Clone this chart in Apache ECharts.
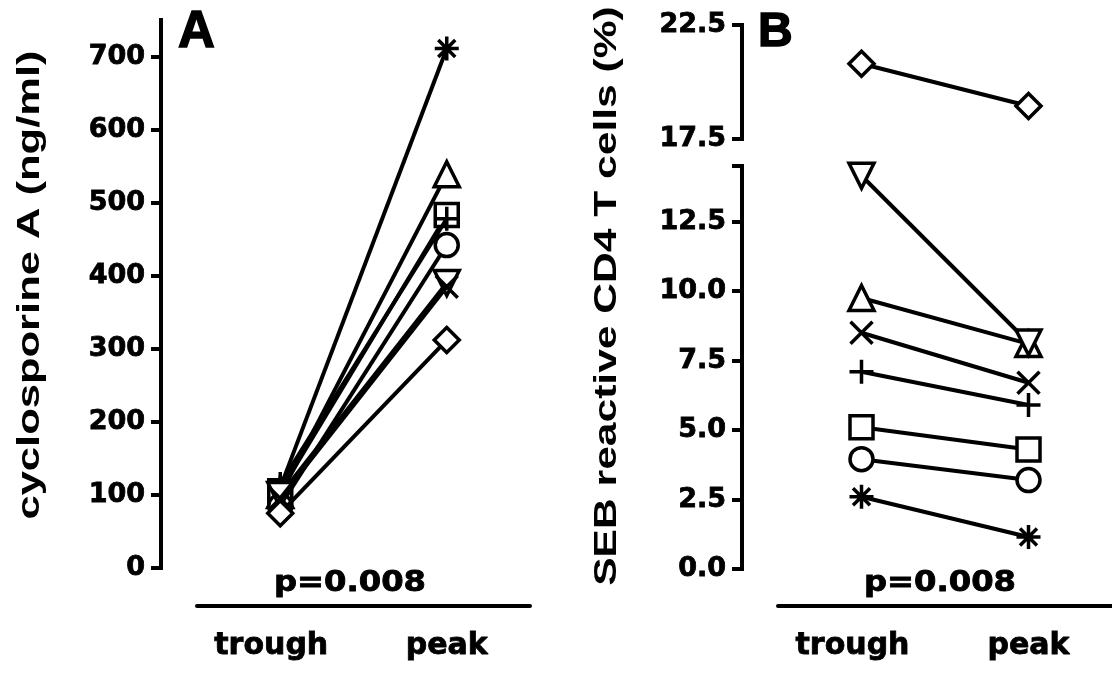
<!DOCTYPE html>
<html><head><meta charset="utf-8">
<script src="https://cdn.jsdelivr.net/npm/echarts@6/dist/echarts.min.js"></script>
<style>html,body{margin:0;padding:0;background:#fff}#c{width:1112px;height:675px}</style>
</head><body><div id="c"></div>
<script>
// ---- data ----
const categories = ['trough', 'peak'];
const subjects = ['asterisk', 'triangle', 'square', 'plus', 'circle', 'triangleDown', 'cross', 'diamond'];
const csaTrough = [110, 100, 105, 115, 85, 100, 95, 75];
const csaPeak = [711, 539, 483, 478, 442, 390, 385, 312];
const sebTrough = [2.6, 9.75, 5.1, 7.1, 3.95, 14.15, 8.5, 20.8];
const sebPeak = [1.15, 8.1, 4.3, 5.9, 3.2, 8.15, 6.7, 18.95];
const csaTicks = [0, 100, 200, 300, 400, 500, 600, 700];
const sebLowTicks = [0, 2.5, 5, 7.5, 10, 12.5];
const sebHighTicks = [17.5, 22.5];
const sebLowMax = 14.5;
const pText = 'p=0.008';

// ---- styling ----
const symbolDefs = {
  asterisk: {symbol: 'path://M5,0L5,10M0,5L10,5M1.46,1.46L8.54,8.54M8.54,1.46L1.46,8.54', size: 24, rotate: 0},
  triangle: {symbol: 'triangle', size: 25, rotate: 0},
  square: {symbol: 'rect', size: 23, rotate: 0},
  plus: {symbol: 'path://M0,5L10,5M5,0L5,10', size: 24, rotate: 0},
  circle: {symbol: 'circle', size: 23, rotate: 0},
  triangleDown: {symbol: 'triangle', size: 25, rotate: 180},
  cross: {symbol: 'path://M0,0L10,10M10,0L0,10', size: 22, rotate: 0},
  diamond: {symbol: 'diamond', size: 25, rotate: 0}
};
const tickFont = '"DejaVu Sans"';
const lineW = 4;
const axisLineStyle = {color: '#000', width: lineW, cap: 'square'};
const heavy = {textBorderColor: '#000', textBorderWidth: 0.8};

function yLabel(extra) {
  return Object.assign({show: true, margin: 16, color: '#000', fontFamily: tickFont, fontWeight: 'bold', fontSize: 27}, heavy, extra || {});
}
function yAx(o) {
  return Object.assign({
    type: 'value', offset: 36,
    axisLine: {show: true, onZero: false, lineStyle: axisLineStyle},
    splitLine: {show: false},
    axisTick: {show: true, inside: false, length: 10, lineStyle: {color: '#000', width: lineW}},
    axisLabel: yLabel()
  }, o);
}
function xAx(grid, offset) {
  const rs = Object.assign({fontFamily: tickFont, fontWeight: 'bold', fontSize: 30, color: '#000'}, heavy);
  return {
    type: 'category', gridIndex: grid, data: categories, boundaryGap: true, offset: offset,
    axisLine: {show: true, onZero: false, lineStyle: {color: '#000', width: lineW}},
    axisTick: {show: false},
    axisLabel: {
      margin: 25, color: '#000',
      formatter: v => v === 'trough' ? '{t|' + v + '}' : '{p|' + v + '}',
      rich: {
        t: Object.assign({}, rs, {padding: [0, 18, 0, 0]}),
        p: rs
      }
    }
  };
}
const fmt1 = v => v.toFixed(1);

const series = [];
subjects.forEach((s, i) => {
  const d = symbolDefs[s];
  const common = {
    type: 'line', symbol: d.symbol, symbolSize: d.size, symbolRotate: d.rotate,
    lineStyle: {color: '#000', width: lineW},
    itemStyle: {color: '#fff', borderColor: '#000', borderWidth: 3.5},
    emphasis: {disabled: true}, silent: true, animation: false, z: 2 + i
  };
  series.push(Object.assign({}, common, {name: 'A-' + s, xAxisIndex: 0, yAxisIndex: 0, data: [csaTrough[i], csaPeak[i]]}));
  const upper = sebTrough[i] > sebLowMax;
  series.push(Object.assign({}, common, {
    name: 'B-' + s, xAxisIndex: upper ? 2 : 1, yAxisIndex: upper ? 3 : 1,
    data: [sebTrough[i], sebPeak[i]]
  }));
});

const option = {
  backgroundColor: '#fff',
  animation: false,
  grid: [
    {left: 197, top: 20, width: 333, height: 548},
    {left: 778, top: 166, width: 334, height: 403},
    {left: 778, top: 25, width: 334, height: 114}
  ],
  xAxis: [
    xAx(0, 38),
    xAx(1, 37),
    {type: 'category', gridIndex: 2, data: categories, boundaryGap: true, show: false}
  ],
  yAxis: [
    yAx({gridIndex: 0, min: 0, max: 750, interval: 100,
      axisTick: {show: true, length: 10, customValues: csaTicks, lineStyle: {color: '#000', width: lineW}},
      axisLabel: yLabel({customValues: csaTicks})}),
    yAx({gridIndex: 1, min: 0, max: sebLowMax, interval: 2.5,
      axisTick: {show: true, length: 10, customValues: sebLowTicks.concat([sebLowMax]), lineStyle: {color: '#000', width: lineW}},
      axisLabel: yLabel({customValues: sebLowTicks, formatter: fmt1})}),
    yAx({gridIndex: 1, min: 0, max: sebLowMax, interval: 2.5,
      axisLine: {show: false},
      axisTick: {show: true, inside: true, length: 10, customValues: [sebLowMax], lineStyle: {color: '#000', width: lineW}},
      axisLabel: {show: false}}),
    yAx({gridIndex: 2, min: 17.5, max: 22.5, interval: 2.5,
      axisTick: {show: true, length: 10, customValues: sebHighTicks, lineStyle: {color: '#000', width: lineW}},
      axisLabel: yLabel({customValues: sebHighTicks, formatter: fmt1})}),
    yAx({gridIndex: 2, min: 17.5, max: 22.5, interval: 2.5,
      axisLine: {show: false},
      axisTick: {show: true, inside: true, length: 10, customValues: [17.5], lineStyle: {color: '#000', width: lineW}},
      axisLabel: {show: false}})
  ],
  graphic: [
    {type: 'text', x: 178, y: 33, style: {text: 'A', font: 'bold 51px "Liberation Sans"', fill: '#000', align: 'left', verticalAlign: 'middle', stroke: '#000', lineWidth: 1.5}},
    {type: 'text', x: 758, y: 33, style: {text: 'B', font: 'bold 48px "Liberation Sans"', fill: '#000', align: 'left', verticalAlign: 'middle', stroke: '#000', lineWidth: 1.5}},
    {type: 'text', x: 30, y: 285, rotation: Math.PI / 2, scaleX: 1.36,
      style: {text: 'cyclosporine A (ng/ml)', font: 'bold 32px "Liberation Sans"', fill: '#000', align: 'center', verticalAlign: 'middle'}},
    {type: 'text', x: 607, y: 296, rotation: Math.PI / 2, scaleX: 1.33,
      style: {text: 'SEB reactive CD4 T cells (%)', font: 'bold 32px "Liberation Sans"', fill: '#000', align: 'center', verticalAlign: 'middle'}},
    {type: 'text', x: 350, y: 584, scaleX: 1.15, style: {text: pText, font: 'bold 28px "DejaVu Sans"', fill: '#000', align: 'center', verticalAlign: 'middle', stroke: '#000', lineWidth: 0.8}},
    {type: 'text', x: 940, y: 584, scaleX: 1.15, style: {text: pText, font: 'bold 28px "DejaVu Sans"', fill: '#000', align: 'center', verticalAlign: 'middle', stroke: '#000', lineWidth: 0.8}}
  ],
  series: series
};
const chart = echarts.init(document.getElementById('c'), null, {renderer: 'canvas'});
chart.setOption(option);
</script>
</body></html>
